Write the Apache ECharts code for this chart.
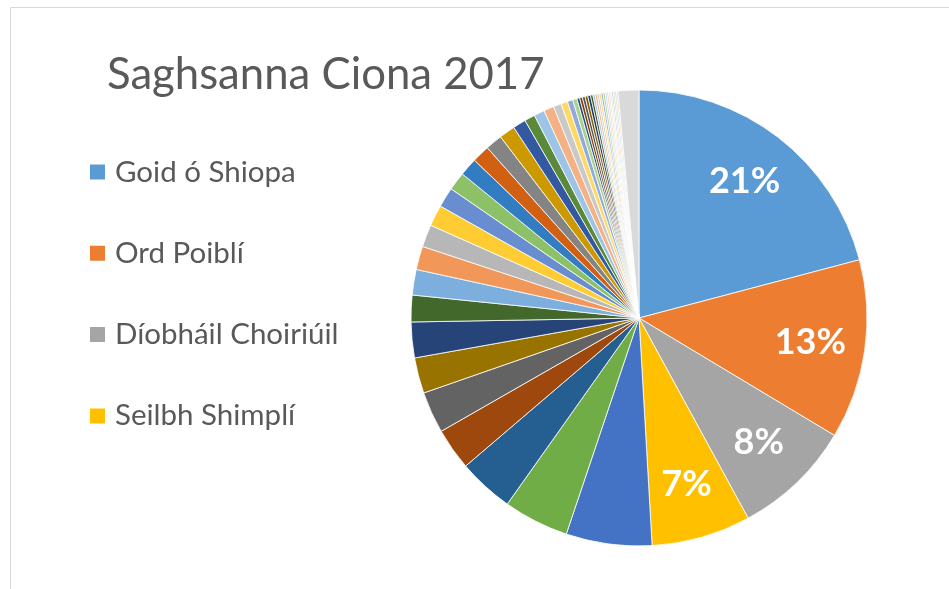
<!DOCTYPE html>
<html>
<head>
<meta charset="utf-8">
<script src="https://cdn.jsdelivr.net/npm/echarts@6/dist/echarts.min.js"></script>
<style>
html,body{margin:0;padding:0;background:#fff;}
#chart{width:949px;height:589px;}
</style>
</head>
<body>
<div id="chart"></div>
<script>
// Category names (only the first four appear in the legend of the reference)
const categories = [
  'Goid ó Shiopa', 'Ord Poiblí', 'Díobháil Choiriúil', 'Seilbh Shimplí',
  'Catagóir 5', 'Catagóir 6', 'Catagóir 7', 'Catagóir 8', 'Catagóir 9', 'Catagóir 10',
  'Catagóir 11', 'Catagóir 12', 'Catagóir 13', 'Catagóir 14', 'Catagóir 15', 'Catagóir 16',
  'Catagóir 17', 'Catagóir 18', 'Catagóir 19', 'Catagóir 20', 'Catagóir 21', 'Catagóir 22',
  'Catagóir 23', 'Catagóir 24', 'Catagóir 25', 'Catagóir 26', 'Catagóir 27', 'Catagóir 28',
  'Catagóir 29', 'Catagóir 30', 'Catagóir 31', 'Catagóir 32', 'Catagóir 33', 'Catagóir 34',
  'Catagóir 35', 'Catagóir 36', 'Catagóir 37', 'Catagóir 38', 'Catagóir 39', 'Catagóir 40',
  'Catagóir 41', 'Catagóir 42', 'Catagóir 43', 'Catagóir 44', 'Catagóir 45', 'Catagóir 46',
  'Catagóir 47', 'Catagóir 48', 'Catagóir 49', 'Catagóir 50', 'Eile'
];
// Values (relative sizes of slices)
const values = [
  752, 458, 304, 253, 219, 167, 142, 107, 106, 91,
  91, 68, 65, 60, 57, 54, 51, 47, 46, 45,
  43, 41, 33, 27, 27, 26, 20, 17, 14, 11,
  7, 7, 7, 7, 7, 6, 5.5, 5.5, 5, 5,
  5, 5, 4.5, 4.5, 4, 4, 4, 4, 4, 4,
  53
];
const legendItems = ['Goid ó Shiopa', 'Ord Poiblí', 'Díobháil Choiriúil', 'Seilbh Shimplí'];
const titleText = 'Saghsanna Ciona 2017';

const palette = [
  '#5B9BD5','#ED7D31','#A5A5A5','#FFC000','#4472C4','#70AD47',
  '#255E91','#9E480E','#636363','#997300','#264478','#43682B',
  '#7CAFDD','#F1975A','#B7B7B7','#FFCD33','#698ED0','#8CC168',
  '#327DC2','#D26012','#848484','#CC9A00','#335AA1','#5A8A39',
  '#9DC3E6','#F4B183','#C9C9C9','#FFD966','#8FAADC','#A9D18E',
  '#1F4E79','#843C0C','#525252','#7F6000','#203864','#375623',
  '#9DC3E6','#F4B183','#C9C9C9','#FFD966','#8FAADC','#A9D18E',
  '#BDD7EE','#F8CBAD','#DBDBDB','#FFE699','#B4C7E7','#C5E0B4',
  '#BDD7EE','#F8CBAD','#D9D9D9'
];

const total = values.reduce((a, b) => a + b, 0);
const pieData = categories.map((n, i) => ({ name: n, value: values[i] }));

const chart = echarts.init(document.getElementById('chart'), null, { renderer: 'canvas' });
chart.setOption({
  animation: false,
  color: palette,
  title: {
    text: titleText,
    left: 107,
    top: 53,
    padding: 0,
    textStyle: { fontFamily: 'Lato', fontSize: 43.7, fontWeight: 'normal', color: '#595959' }
  },
  legend: {
    data: legendItems,
    orient: 'vertical',
    left: 88,
    top: 156,
    padding: 0,
    itemWidth: 17,
    itemHeight: 17,
    itemGap: 49.3,
    icon: 'rect',
    selectedMode: false,
    textStyle: { fontFamily: 'Lato', fontSize: 29.5, color: '#595959', lineHeight: 32, padding: [0, 0, 0, 4] }
  },
  graphic: [{
    type: 'rect',
    shape: { x: 10.5, y: 7.5, width: 1000, height: 1000 },
    style: { fill: 'none', stroke: '#D9D9D9', lineWidth: 1 },
    silent: true,
    z: -10
  }],
  series: [
    {
      type: 'pie',
      center: [639, 318],
      radius: [0, 228],
      startAngle: 90,
      clockwise: true,
      data: pieData,
      label: { show: false },
      labelLine: { show: false },
      itemStyle: { borderColor: '#ffffff', borderWidth: 0.8 },
      emphasis: { disabled: true }
    },
    {
      type: 'pie',
      center: [639, 318],
      radius: [112, 228],
      startAngle: 90,
      clockwise: true,
      silent: true,
      data: pieData,
      itemStyle: { color: 'rgba(0,0,0,0)', borderWidth: 0 },
      labelLine: { show: false },
      label: {
        show: true,
        position: 'inside',
        fontFamily: 'Lato',
        fontWeight: 'bold',
        fontSize: 36,
        color: '#ffffff',
        formatter: p => p.dataIndex < 4 ? Math.round(p.value / total * 100) + '%' : ''
      },
      emphasis: { disabled: true },
      tooltip: { show: false }
    }
  ]
});
</script>
</body>
</html>
